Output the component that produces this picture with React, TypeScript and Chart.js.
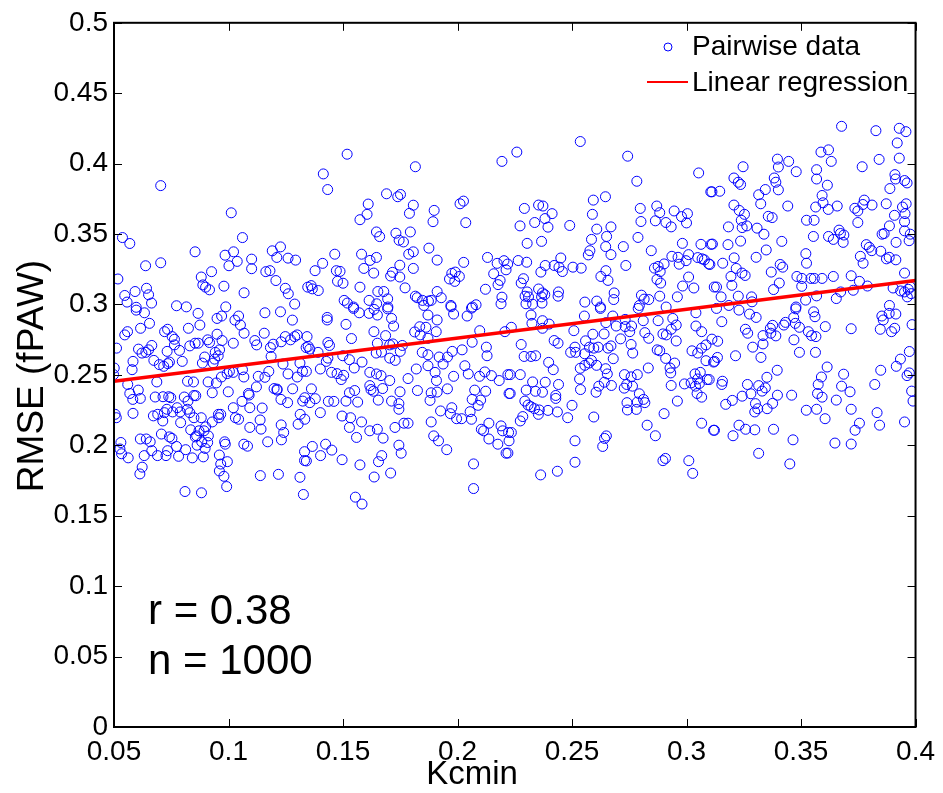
import React, { useEffect, useRef } from 'react';
import { Chart, registerables } from 'chart.js';
Chart.register(...registerables);

const xTicks = [0.05, 0.1, 0.15, 0.2, 0.25, 0.3, 0.35, 0.4];
const yTicks = [0, 0.05, 0.1, 0.15, 0.2, 0.25, 0.3, 0.35, 0.4, 0.45, 0.5];
const xTitle = 'Kcmin';
const yTitle = 'RMSE (fPAW)';
const legendLabels = ['Pairwise data', 'Linear regression'];
const statsLines = ['r = 0.38', 'n = 1000'];
const regressionX = [0.05, 0.4];
const regressionY = [0.2455, 0.317];

const pairwiseData: [number, number][] = [
[.0704,.3844],[.1012,.3651],[.0537,.3475],[.0569,.3433],[.1061,.3475],[.0854,.3374],[.0985,.3350],[.1022,.3374],[.1038,.3306],[.1002,.3275],[.1101,.3322],[.1101,.3254],[.1191,.3381],[.1227,.3409],[.1211,.3334],[.1260,.3329],[.1293,.3315],[.0638,.3275],[.0704,.3296],[.0517,.3181],[.0926,.3233],[.0881,.3195],[.0888,.3139],[.0900,.3123],[.0917,.3104],[.0980,.3130],[.1068,.3083],[.1163,.3233],[.1181,.3240],[.1207,.3170],[.1248,.3115],[.1261,.3076],[.1289,.3003],[.0547,.3064],[.0557,.3017],[.0592,.3092],[.0642,.3115],[.0651,.3069],[.0664,.3010],[.0773,.2991],[.0816,.2983],[.0988,.2983],[.0597,.2980],[.1346,.3123],
[.1518,.4067],[.1816,.3978],[.2194,.4016],[.1414,.3927],[.1433,.3816],[.1690,.3786],[.1739,.3765],[.1751,.3781],[.1610,.3713],[.1807,.3705],[.1605,.3640],[.1574,.3602],[.1790,.3647],[.1898,.3668],[.1893,.3588],[.2011,.3715],[.2026,.3734],[.2036,.3581],[.1646,.3515],[.1660,.3482],[.1731,.3506],[.1794,.3515],[.1745,.3456],[.1764,.3444],[.1875,.3400],[.1807,.3374],[.1787,.3357],[.1464,.3357],[.1581,.3357],[.1646,.3334],[.1618,.3313],[.1411,.3292],[.1378,.3240],[.1471,.3240],[.1487,.3235],[.1591,.3256],[.1634,.3223],[.1748,.3279],[.1716,.3228],[.1708,.3202],[.1748,.3195],[.1807,.3256],[.1911,.3315],[.2027,.3299],[.1975,.3221],[.1990,.3230],[.1965,.3181],[.1988,.3164],[.2008,.3199],[.2131,.3334],[.2173,.3292],[.2203,.3311],[.2219,.3287],[.2212,.3246],[.2158,.3218],[.2186,.3171],[.2177,.3141],[.2122,.3108],[.1476,.3165],[.1500,.3151],[.1361,.3134],[.1366,.3111],[.1392,.3099],[.1574,.3123],[.1771,.3118],[.1652,.3092],[.1678,.3092],[.1695,.3040],[.1614,.3029],[.1505,.3029],[.1519,.3010],[.1816,.3059],[.1824,.3048],[.1847,.3029],[.1873,.3024],[.1885,.3029],[.1911,.3092],[.1929,.3048],[.2194,.3052],[.2190,.3005],[.1971,.2993],[.2065,.2982],[.2081,.2998],[.1647,.3005],[.1696,.2982],[.1853,.2993],[.1546,.2982],
[.2536,.4157],[.2259,.4082],[.2743,.4053],[.2783,.3875],[.3053,.3934],[.3106,.3800],[.2593,.3741],[.2646,.3765],[.2292,.3682],[.2354,.3706],[.2373,.3699],[.2413,.3645],[.2382,.3610],[.2337,.3582],[.2273,.3558],[.2395,.3549],[.2490,.3561],[.2589,.3640],[.2608,.3535],[.2670,.3551],[.2798,.3682],[.2801,.3589],[.2870,.3699],[.2883,.3652],[.2864,.3594],[.2910,.3582],[.2933,.3551],[.2946,.3664],[.2978,.3624],[.3004,.3645],[.3000,.3579],[.2367,.3448],[.2304,.3434],[.2585,.3462],[.2651,.3483],[.2647,.3411],[.2578,.3382],[.2571,.3352],[.2670,.3354],[.2724,.3411],[.2788,.3476],[.2846,.3382],[.2982,.3434],[.3063,.3427],[.3107,.3427],[.2936,.3342],[.2963,.3335],[.2968,.3286],[.2998,.3311],[.3009,.3354],[.3049,.3333],[.3068,.3324],[.3078,.3317],[.3097,.3288],[.2265,.3312],[.2302,.3300],[.2451,.3330],[.2422,.3277],[.2383,.3277],[.2364,.3230],[.2443,.3265],[.2458,.3234],[.2504,.3265],[.2540,.3258],[.2735,.3277],[.2648,.3240],[.2626,.3199],[.2657,.3171],[.2860,.3258],[.2876,.3270],[.2885,.3234],[.2902,.3288],[.2871,.3178],[.2887,.3152],[.3009,.3195],[.2983,.3131],[.3032,.3117],[.3121,.3124],[.2288,.3183],[.2278,.3152],[.2354,.3110],[.2304,.3089],[.2295,.3059],[.2310,.3054],[.2371,.3082],[.2381,.3070],[.2367,.3054],[.2441,.3089],[.2439,.3059],[.2299,.3005],[.2328,.3002],[.2369,.3010],[.2556,.3017],[.2608,.3024],[.2684,.3082],[.2682,.3035],[.2624,.2982],[.2803,.3066],[.2815,.3038],[.2835,.3035],[.2794,.2993],[.2883,.3059],[.2960,.3054],[.2911,.2982],
[.3677,.4265],[.3827,.4234],[.3929,.4251],[.3958,.4227],[.3920,.4147],[.3587,.4082],[.3620,.4098],[.3632,.4016],[.3841,.4030],[.3929,.4039],[.3397,.4032],[.3446,.4016],[.3401,.3976],[.3247,.3978],[.3767,.3978],[.3568,.3957],[.3479,.3943],[.3568,.3891],[.3207,.3898],[.3226,.3868],[.3236,.3852],[.3383,.3898],[.3390,.3868],[.3910,.3922],[.3913,.3891],[.3952,.3880],[.3963,.3863],[.3615,.3847],[.3888,.3823],[.3111,.3800],[.3145,.3804],[.3344,.3816],[.3401,.3814],[.3315,.3779],[.3324,.3715],[.3592,.3774],[.3596,.3722],[.3776,.3741],[.3770,.3710],[.3810,.3706],[.3872,.3715],[.3658,.3699],[.3564,.3692],[.3619,.3675],[.3442,.3699],[.3207,.3706],[.3230,.3668],[.3253,.3640],[.3239,.3598],[.3243,.3546],[.3263,.3558],[.3183,.3551],[.3308,.3542],[.3357,.3626],[.3374,.3617],[.3338,.3499],[.3524,.3598],[.3557,.3598],[.3735,.3683],[.3748,.3664],[.3748,.3582],[.3943,.3692],[.3959,.3715],[.3908,.3633],[.3954,.3645],[.3952,.3588],[.3886,.3558],[.3854,.3499],[.3863,.3504],[.3952,.3523],[.3977,.3499],[.3972,.3453],[.3915,.3441],[.3554,.3483],[.3620,.3483],[.3641,.3462],[.3666,.3528],[.3672,.3504],[.3687,.3493],[.3684,.3441],[.3113,.3429],[.3181,.3425],[.3236,.3450],[.3416,.3448],[.3348,.3387],[.3304,.3335],[.3208,.3331],[.3102,.3284],[.3158,.3293],[.3217,.3256],[.3521,.3361],[.3524,.3293],[.3409,.3284],[.3420,.3265],[.3785,.3425],[.3798,.3406],[.3809,.3382],[.3848,.3378],[.3759,.3342],[.3771,.3293],[.3873,.3324],[.3885,.3335],[.3914,.3317],[.3370,.3230],[.3242,.3223],[.3256,.3206],[.3194,.3199],[.3198,.3136],[.3131,.3124],[.3405,.3152],[.3380,.3106],[.3482,.3199],[.3504,.3185],[.3503,.3129],[.3543,.3185],[.3558,.3185],[.3592,.3185],[.3641,.3199],[.3719,.3204],[.3755,.3164],[.3790,.3131],[.3952,.3223],[.3902,.3117],[.3935,.3096],[.3952,.3089],[.3968,.3108],[.3978,.3124],[.3964,.3054],[.3981,.3077],[.3151,.3054],[.3226,.3059],[.3284,.3054],[.3286,.3019],[.3568,.3061],[.3520,.3031],[.3654,.3042],[.3673,.3089],[.3728,.3101],[.3886,.2993],[.3478,.2982],[.3185,.2993],
[.0597,.2960],[.0633,.2941],[.0867,.2937],[.0950,.2901],[.0970,.2918],[.1028,.2889],[.1044,.2918],[.1052,.2854],[.1068,.2796],[.1159,.2941],[.1227,.2948],[.1279,.2889],[.0655,.2866],[.0616,.2831],[.0547,.2784],[.0559,.2807],[.0511,.2690],[.0721,.2807],[.0734,.2824],[.0825,.2831],[.0875,.2854],[.0754,.2772],[.0764,.2753],[.0764,.2713],[.0831,.2706],[.0854,.2725],[.0868,.2725],[.0909,.2749],[.0917,.2730],[.0950,.2789],[.0972,.2744],[.1021,.2725],[.1115,.2744],[.1156,.2796],[.1123,.2713],[.1195,.2718],[.1183,.2694],[.1230,.2735],[.1248,.2772],[.1271,.2749],[.1289,.2772],[.1300,.2784],[.1339,.2694],[.0607,.2683],[.0622,.2655],[.0639,.2660],[.0651,.2678],[.0665,.2709],[.0732,.2667],[.0786,.2674],[.0896,.2627],[.0942,.2660],[.0955,.2636],[.0961,.2678],[.0674,.2603],[.0583,.2596],[.0579,.2537],[.0698,.2573],[.0717,.2561],[.0735,.2580],[.0742,.2591],[.0798,.2596],[.0886,.2584],[.0933,.2584],[.0939,.2612],[.0994,.2509],[.1004,.2525],[.1021,.2518],[.1061,.2537],[.1067,.2485],[.0969,.2485],[.1130,.2490],[.1159,.2483],[.1176,.2525],[.1186,.2631],[.1238,.2577],[.1260,.2507],[.1300,.2485],[.1312,.2584],[.1323,.2525],[.0501,.2549],[.0498,.2502],[.0560,.2432],[.0687,.2450],[.0821,.2455],[.0847,.2450],[.0911,.2450],[.0947,.2443],[.0999,.2380],[.1087,.2368],[.1090,.2357],[.1122,.2415],[.1199,.2403],[.1212,.2399],[.1280,.2401],[.0569,.2368],[.0582,.2326],[.0615,.2333],[.0606,.2392],[.0680,.2343],[.0714,.2345],[.0739,.2345],[.0748,.2338],[.0807,.2343],[.0823,.2314],[.0849,.2354],[.0857,.2352],[.0929,.2373],[.1059,.2312],[.1229,.2326],[.1258,.2303],[.1324,.2314],[.0505,.2220],[.0510,.2196],[.0583,.2227],[.0672,.2209],[.0691,.2220],[.0713,.2173],[.0720,.2232],[.0731,.2256],[.0756,.2237],[.0776,.2267],[.0789,.2237],[.0821,.2256],[.0831,.2232],[.0791,.2161],[.0849,.2196],[.0881,.2196],[.0929,.2166],[.0956,.2220],[.0966,.2220],[.0958,.2196],[.1021,.2267],[.1030,.2196],[.1044,.2185],[.1093,.2267],[.1093,.2127],[.1147,.2265],[.1138,.2180],[.1142,.2115],[.1230,.2145],[.1241,.2091],[.1304,.2150],[.1313,.2220],[.0900,.2131],[.0835,.2110],[.0871,.2103],[.0893,.2103],[.0861,.2067],[.0855,.2060],[.0912,.2067],[.0909,.2020],[.0863,.2001],[.0883,.2025],[.0898,.1978],[.0707,.2080],[.0742,.2060],[.0753,.2049],[.0615,.2045],[.0641,.2045],[.0658,.2025],[.0530,.2020],[.0526,.1974],[.0533,.1940],[.0562,.1911],[.0632,.1927],[.0665,.1962],[.0690,.1927],[.0727,.1927],[.0734,.1962],[.0773,.1992],[.0782,.1922],[.0813,.1969],[.0842,.1911],[.0890,.1918],[.0960,.1931],[.0983,.2025],[.0986,.2008],[.0995,.1884],[.0966,.1867],[.0960,.1818],[.0980,.1780],[.0992,.1707],[.1067,.2008],[.1083,.1994],[.1171,.2025],[.1231,.2039],[.1332,.1955],[.1332,.1892],[.0623,.1845],[.0613,.1797],[.1139,.1785],[.1218,.1794],[.1312,.1773],[.0810,.1672],[.0882,.1663],[.1327,.1651],[.1212,.2392],
[.1431,.2908],[.1431,.2890],[.1513,.2859],[.1546,.2972],[.1571,.2941],[.1614,.2937],[.1636,.2965],[.1650,.2925],[.1695,.2969],[.1712,.2901],[.1721,.2847],[.1871,.2925],[.1911,.2890],[.1972,.2984],[.1983,.2932],[.2042,.2918],[.2061,.2974],[.1343,.2772],[.1348,.2702],[.1355,.2683],[.1391,.2660],[.1434,.2730],[.1441,.2709],[.1434,.2619],[.1427,.2596],[.1537,.2758],[.1635,.2807],[.1686,.2779],[.1650,.2725],[.1704,.2713],[.1718,.2720],[.1759,.2709],[.1750,.2667],[.1813,.2805],[.1835,.2842],[.1862,.2838],[.1837,.2784],[.1871,.2760],[.1907,.2807],[.2064,.2732],[.2097,.2814],[.2126,.2697],[.2129,.2636],[.2207,.2807],[.1499,.2636],[.1528,.2608],[.1583,.2591],[.1645,.2655],[.1668,.2662],[.1704,.2619],[.1728,.2603],[.1846,.2660],[.1871,.2643],[.1920,.2627],[.1956,.2627],[.1937,.2577],[.1977,.2667],[.2020,.2678],[.1340,.2525],[.1401,.2542],[.1450,.2518],[.1474,.2509],[.1492,.2467],[.1503,.2497],[.1549,.2549],[.1617,.2518],[.1646,.2507],[.1666,.2495],[.1704,.2460],[.1784,.2474],[.1820,.2542],[.1871,.2565],[.1902,.2518],[.1908,.2460],[.1983,.2490],[.2032,.2565],[.2047,.2507],[.2096,.2490],[.2119,.2521],[.2148,.2495],[.2182,.2460],[.2220,.2502],[.1362,.2401],[.1379,.2331],[.1333,.2338],[.1355,.2303],[.1401,.2232],[.1436,.2312],[.1460,.2312],[.1513,.2314],[.1528,.2373],[.1551,.2389],[.1564,.2307],[.1617,.2424],[.1622,.2396],[.1633,.2384],[.1673,.2403],[.1654,.2321],[.1712,.2314],[.1744,.2296],[.1744,.2256],[.1749,.2380],[.1825,.2389],[.1880,.2319],[.1885,.2373],[.1911,.2378],[.1956,.2401],[.1926,.2244],[.1975,.2267],[.1969,.2225],[.1996,.2189],[.2018,.2189],[.2055,.2239],[.2061,.2185],[.2064,.2326],[.2075,.2392],[.2090,.2284],[.2101,.2321],[.2123,.2384],[.2225,.2368],[.1333,.2185],[.1496,.2208],[.1533,.2196],[.1528,.2127],[.1581,.2166],[.1617,.2103],[.1650,.2114],[.1675,.2051],[.1727,.2127],[.1766,.2157],[.1784,.2157],[.1885,.2166],[.1896,.2067],[.1917,.2032],[.1559,.2056],[.1953,.1969],[.2104,.2114],[.2114,.2103],[.2137,.2157],[.2137,.2045],[.2176,.2008],[.2190,.2138],[.2197,.2103],[.2223,.2091],[.2212,.1944],[.1366,.1992],[.1424,.2008],[.1451,.1966],[.1402,.1927],[.1340,.1889],[.1744,.2001],[.1754,.1944],[.1669,.1927],[.1655,.1884],[.1574,.1861],[.1496,.1898],[.1708,.1803],[.1636,.1775],[.2070,.1868],[.2070,.1693],[.1554,.1632],[.1583,.1583],
[.2321,.2925],[.2325,.2866],[.2371,.2885],[.2371,.2831],[.2400,.2861],[.2235,.2838],[.2554,.2918],[.2508,.2814],[.2624,.2972],[.2648,.2871],[.2678,.2918],[.2693,.2847],[.2732,.2843],[.2760,.2847],[.2752,.2807],[.2732,.2894],[.2789,.2972],[.2811,.2885],[.2818,.2800],[.2835,.2760],[.2876,.2885],[.2933,.2824],[.2897,.2791],[.2912,.2784],[.2940,.2901],[.2955,.2854],[.2955,.2741],[.3041,.2941],[.3041,.2847],[.3066,.2807],[.2422,.2744],[.2439,.2725],[.2278,.2716],[.2291,.2631],[.2321,.2631],[.2341,.2636],[.2494,.2660],[.2516,.2660],[.2513,.2697],[.2555,.2650],[.2559,.2742],[.2591,.2789],[.2576,.2697],[.2595,.2690],[.2614,.2697],[.2640,.2791],[.2657,.2690],[.2670,.2706],[.2680,.2615],[.2712,.2756],[.2758,.2716],[.2765,.2655],[.2872,.2678],[.2883,.2671],[.2909,.2617],[.2928,.2549],[.2931,.2514],[.2948,.2584],[.3024,.2671],[.3049,.2655],[.3066,.2690],[.3085,.2713],[.3085,.2601],[.3118,.2591],[.2398,.2589],[.2418,.2537],[.2585,.2603],[.2574,.2584],[.2556,.2568],[.2607,.2568],[.2536,.2547],[.2533,.2471],[.2647,.2544],[.2654,.2507],[.2641,.2448],[.2672,.2425],[.2617,.2420],[.2605,.2377],[.2537,.2396],[.2729,.2502],[.2758,.2486],[.2785,.2502],[.2833,.2549],[.2739,.2432],[.2728,.2406],[.2764,.2420],[.2794,.2366],[.2230,.2502],[.2274,.2502],[.2328,.2450],[.2383,.2448],[.2441,.2432],[.2300,.2392],[.2340,.2384],[.2371,.2377],[.2230,.2368],[.2429,.2354],[.2429,.2333],[.2294,.2314],[.2308,.2286],[.2321,.2274],[.2336,.2260],[.2357,.2251],[.2353,.2220],[.2395,.2248],[.2436,.2237],[.2500,.2284],[.2481,.2196],[.2285,.2204],[.2274,.2173],[.2595,.2201],[.2740,.2303],[.2742,.2251],[.2781,.2255],[.2785,.2307],[.2812,.2326],[.2818,.2303],[.2902,.2225],[.2933,.2425],[.2960,.2314],[.2991,.2436],[.3020,.2443],[.3037,.2507],[.3060,.2518],[.3049,.2471],[.3039,.2420],[.3056,.2439],[.3090,.2467],[.3046,.2368],[.3066,.2342],[.2828,.2143],[.2864,.2068],[.3066,.2157],[.3118,.2107],[.2235,.2091],[.2225,.2032],[.2220,.1945],[.2513,.2032],[.2650,.2067],[.2642,.2049],[.2634,.1992],[.2513,.1880],[.2436,.1816],[.2363,.1790],[.2897,.1891],[.2908,.1907],[.3010,.1891],[.3027,.1801],
[.3131,.2972],[.3229,.2960],[.3275,.2932],[.3304,.2908],[.3154,.2878],[.3257,.2824],[.3267,.2796],[.3289,.2697],[.3334,.2779],[.3334,.2720],[.3366,.2831],[.3376,.2852],[.3368,.2796],[.3390,.2777],[.3425,.2854],[.3432,.2873],[.3477,.2969],[.3468,.2908],[.3475,.2866],[.3493,.2838],[.3532,.2807],[.3546,.2779],[.3565,.2772],[.3555,.2948],[.3561,.2913],[.3606,.2843],[.3469,.2749],[.3493,.2660],[.3563,.2660],[.3719,.2828],[.3846,.2824],[.3859,.2890],[.3853,.2918],[.3885,.2937],[.3914,.2932],[.3895,.2807],[.3909,.2831],[.3985,.2857],[.3111,.2754],[.3136,.2739],[.3122,.2596],[.3135,.2624],[.3214,.2636],[.3325,.2624],[.3973,.2666],[.3934,.2612],[.3916,.2561],[.3848,.2533],[.3973,.2514],[.3963,.2495],[.3614,.2556],[.3686,.2505],[.3396,.2533],[.3351,.2483],[.3099,.2467],[.3157,.2455],[.3154,.2432],[.3266,.2432],[.3315,.2424],[.3344,.2408],[.3330,.2385],[.3281,.2366],[.3243,.2349],[.3397,.2356],[.3459,.2356],[.3589,.2485],[.3575,.2432],[.3572,.2368],[.3592,.2342],[.3677,.2420],[.3714,.2380],[.3654,.2321],[.3822,.2432],[.3983,.2385],[.3989,.2314],[.3171,.2291],[.3200,.2319],[.3301,.2296],[.3311,.2260],[.3298,.2237],[.3352,.2260],[.3376,.2298],[.3523,.2249],[.3568,.2256],[.3605,.2189],[.3719,.2256],[.3832,.2232],[.3843,.2143],[.3952,.2166],[.3755,.2157],[.3736,.2107],[.3229,.2143],[.3258,.2114],[.3298,.2110],[.3380,.2114],[.3122,.2107],[.3203,.2068],[.3465,.2039],[.3648,.2016],[.3719,.2009],[.3315,.1943],[.3451,.1868]
];

const FONT = '"Liberation Sans", Arial, Helvetica, sans-serif';
const BLUE = '#0000ff';
const RED = '#ff0000';

export default function App() {
  const canvasRef = useRef<HTMLCanvasElement>(null);

  useEffect(() => {
    const canvas = canvasRef.current;
    if (!canvas) return;

    const decor = {
      id: 'matlabDecor',
      afterDraw(chart: any) {
        const { ctx, chartArea: ca, scales } = chart;
        const xs = scales.x;
        const ys = scales.y;
        ctx.save();
        ctx.strokeStyle = '#000';
        ctx.lineWidth = 1;
        const tl = 8;
        ctx.beginPath();
        for (const v of xTicks) {
          const p = Math.round(xs.getPixelForValue(v)) + 0.5;
          ctx.moveTo(p, ca.bottom); ctx.lineTo(p, ca.bottom - tl);
          ctx.moveTo(p, ca.top); ctx.lineTo(p, ca.top + tl);
        }
        for (const v of yTicks) {
          const p = Math.round(ys.getPixelForValue(v)) + 0.5;
          ctx.moveTo(ca.left, p); ctx.lineTo(ca.left + tl, p);
          ctx.moveTo(ca.right, p); ctx.lineTo(ca.right - tl, p);
        }
        ctx.stroke();
        ctx.lineWidth = 2;
        ctx.strokeRect(ca.left, ca.top, ca.right - ca.left, ca.bottom - ca.top);

        ctx.fillStyle = '#000';
        ctx.textAlign = 'center';
        ctx.textBaseline = 'middle';
        ctx.font = `33px ${FONT}`;
        ctx.fillText(xTitle, 472, 775);
        ctx.save();
        ctx.translate(33, 376);
        ctx.rotate(-Math.PI / 2);
        ctx.font = `37px ${FONT}`;
        ctx.fillText(yTitle, 0, 0);
        ctx.restore();

        ctx.font = `42px ${FONT}`;
        ctx.textAlign = 'left';
        ctx.textBaseline = 'alphabetic';
        ctx.fillText(statsLines[0], ca.left + 34, 624);
        ctx.fillText(statsLines[1], ca.left + 34, 674);

        ctx.font = `28px ${FONT}`;
        ctx.textBaseline = 'middle';
        ctx.strokeStyle = BLUE;
        ctx.lineWidth = 1;
        ctx.beginPath();
        ctx.arc(668, 47, 4, 0, Math.PI * 2);
        ctx.stroke();
        ctx.fillText(legendLabels[0], 692, 47);
        ctx.strokeStyle = RED;
        ctx.lineWidth = 2;
        ctx.beginPath();
        ctx.moveTo(647, 82); ctx.lineTo(688, 82);
        ctx.stroke();
        ctx.fillText(legendLabels[1], 692, 83);
        ctx.restore();
      },
    };

    const chart = new Chart(canvas, {
      type: 'scatter',
      data: {
        datasets: [
          {
            type: 'line',
            label: legendLabels[1],
            data: regressionX.map((x, i) => ({ x, y: regressionY[i] })),
            borderColor: RED,
            borderWidth: 3.5,
            pointRadius: 0,
            fill: false,
          } as any,
          {
            type: 'scatter',
            label: legendLabels[0],
            data: pairwiseData.map(([x, y]) => ({ x, y })),
            pointStyle: 'circle',
            pointRadius: 5,
            borderColor: BLUE,
            backgroundColor: 'rgba(0,0,0,0)',
            borderWidth: 1,
            showLine: false,
          },
        ],
      },
      options: {
        responsive: false,
        animation: false,
        events: [],
        layout: { padding: { left: 0, right: 20, top: 17, bottom: 0 } },
        plugins: { legend: { display: false }, tooltip: { enabled: false } },
        scales: {
          x: {
            type: 'linear',
            min: 0.05,
            max: 0.4,
            afterBuildTicks: (scale: any) => { scale.ticks = xTicks.map((v) => ({ value: v })); },
            afterFit: (scale: any) => { scale.height = 66; },
            grid: { display: false, drawTicks: false },
            border: { display: false },
            ticks: {
              padding: 8,
              color: '#000',
              font: { family: FONT, size: 28 },
              maxRotation: 0,
              autoSkip: false,
              callback: (v: any) => String(v),
            },
          },
          y: {
            type: 'linear',
            min: 0,
            max: 0.5,
            afterBuildTicks: (scale: any) => { scale.ticks = yTicks.map((v) => ({ value: v })); },
            afterFit: (scale: any) => { scale.width = 114; },
            grid: { display: false, drawTicks: false },
            border: { display: false },
            ticks: {
              padding: 6,
              color: '#000',
              font: { family: FONT, size: 28 },
              autoSkip: false,
              callback: (v: any) => String(v),
            },
          },
        },
      },
      plugins: [decor],
    });

    return () => chart.destroy();
  }, []);

  return (
    <div style={{ position: 'fixed', left: 0, top: 0, width: 943, height: 793, background: '#fff' }}>
      <canvas ref={canvasRef} width={943} height={793} style={{ display: 'block' }} />
    </div>
  );
}
